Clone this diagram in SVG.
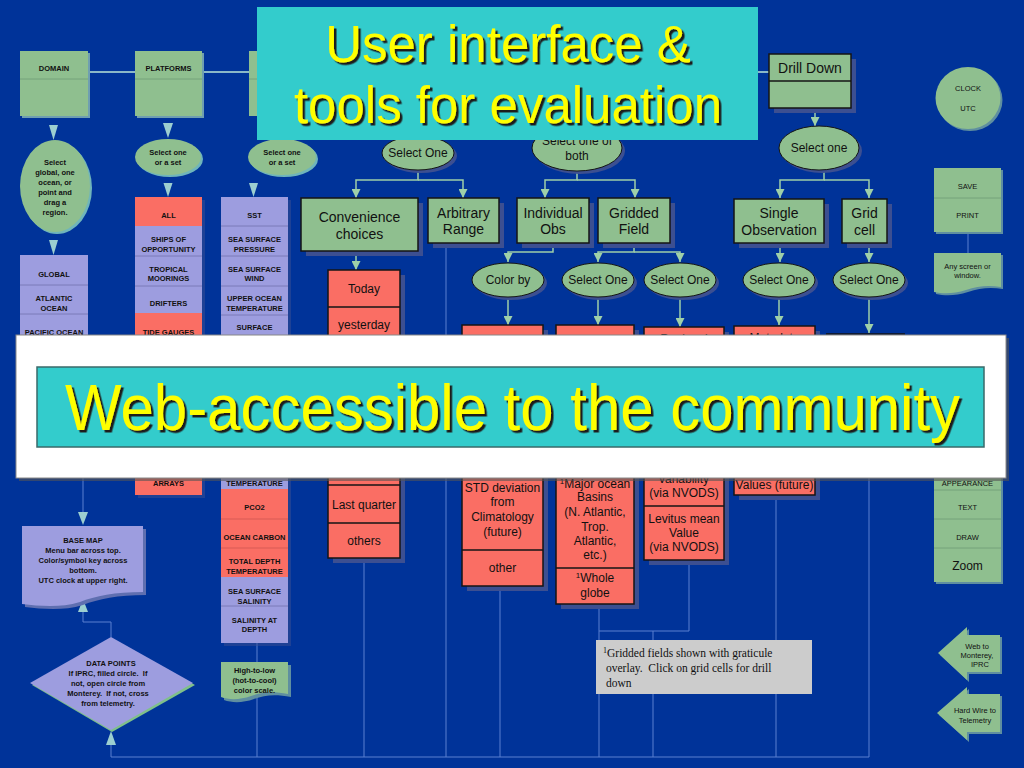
<svg xmlns="http://www.w3.org/2000/svg" width="1024" height="768" viewBox="0 0 1024 768">
<defs>
<style>
.gr{fill:#8fbf8f}
.grb{fill:#8fbf8f;stroke:#151515;stroke-width:1.5}
.lv{fill:#9d9ddf}
.rd{fill:#fa6e64}
.rdb{fill:#fa6e64;stroke:#151515;stroke-width:1.5}
.sh{fill:#3c4f91}
.shl{fill:#6f9fb0}
.dv{stroke:#7a7ab8;stroke-width:1}
.dvr{stroke:#d85a55;stroke-width:1}
.dvg{stroke:#74a27a;stroke-width:1}
.dvk{stroke:#151515;stroke-width:1.5}
.tri{fill:#9ccfd0}
.ln{stroke:#5a80d0;stroke-width:1;fill:none}
.lnl{stroke:#8ab8c8;stroke-width:2;fill:none}
.ar{stroke:#9fd0a8;stroke-width:1.5;fill:none;marker-end:url(#ah)}
.b{font-family:"Liberation Sans",Arial,sans-serif;font-size:7.5px;font-weight:bold;fill:#111;text-anchor:middle}
.n{font-family:"Liberation Sans",Arial,sans-serif;font-size:7.5px;fill:#111;text-anchor:middle}
.m{font-family:"Liberation Sans",Arial,sans-serif;font-size:12px;fill:#111;text-anchor:middle}
.l{font-family:"Liberation Sans",Arial,sans-serif;font-size:14px;fill:#111;text-anchor:middle}
.tt{font-family:"Liberation Sans",Tahoma,sans-serif;font-size:51px;text-anchor:middle;fill:#ffff00;filter:url(#ds)}
</style>
<filter id="ds" x="-5%" y="-20%" width="110%" height="140%"><feDropShadow dx="2.5" dy="2.5" stdDeviation="0.6" flood-color="#1a1a1a" flood-opacity="1"/></filter>
<marker id="ah" viewBox="0 0 10 10" refX="10" refY="5" markerWidth="9" markerHeight="9" markerUnits="userSpaceOnUse" orient="auto"><path d="M0,0 L10,5 L0,10 Z" fill="#9fd0a8"/></marker>
</defs>
<rect width="1024" height="768" fill="#003399"/>

<g id="connectors">
<path class="lnl" d="M88,72 H135 M202,72 H249 M758,72 H769"/>
<path class="ln" d="M83,400 V512 M83,612 V622 H111 V637 M111,745 V757 H869 M257,643 V662 M257,697 V757 M446,243 V757 M364,558 V757 M500,586 V757 M599,604 V757 M689,560 V631 H599 M653,631 V757 M776,495 V757 M869,478 V757 M968,232 V253"/>
<path class="ar" d="M815,108 V126"/>
<path class="ar" d="M824,170 V180 H780 V198"/>
<path class="ar" d="M824,180 H869 V198"/>
<path class="ar" d="M780,243 V262"/>
<path class="ar" d="M869,243 V262"/>
<path class="ar" d="M779,297 V325"/>
<path class="ar" d="M869,297 V333"/>
<path class="ar" d="M418,170 V180 H356 V198"/>
<path class="ar" d="M418,180 H463 V198"/>
<path class="ar" d="M356,252 V270"/>
<path class="ar" d="M577,171 V180 H545 V198"/>
<path class="ar" d="M577,180 H635 V198"/>
<path class="ar" d="M553,243 V252 H508 V262"/>
<path class="ar" d="M634,243 V252 H598 V262"/>
<path class="ar" d="M634,252 H680 V262"/>
<path class="ar" d="M508,297 V325"/>
<path class="ar" d="M598,297 V325"/>
<path class="ar" d="M680,297 V327"/>
<polygon class="tri" points="49,125 58,125 53.5,140"/>
<polygon class="tri" points="163,123 173,123 168,138"/>
<polygon class="tri" points="163.5,183 172.5,183 168,197"/>
<polygon class="tri" points="249,183 258,183 253.5,197"/>
<polygon class="tri" points="49,240 58,240 53.5,255"/>
<polygon class="tri" points="78,512 88,512 83,525"/>
<polygon class="tri" points="78,612 88,612 83,599"/>
<polygon class="tri" points="106,745 116,745 111,731"/>
</g>

<g id="domain">
<rect class="shl" x="22" y="53" width="68" height="65"/>
<rect class="gr" x="20" y="51" width="68" height="65"/>
<line class="dvg" x1="20" y1="79" x2="88" y2="79"/>
<text class="b" x="54" y="71">DOMAIN</text>
</g>
<g id="platforms">
<rect class="shl" x="137" y="53" width="67" height="65"/>
<rect class="gr" x="135" y="51" width="67" height="65"/>
<line class="dvg" x1="135" y1="79" x2="202" y2="79"/>
<text class="b" x="168.5" y="71">PLATFORMS</text>
</g>
<g id="parameters">
<rect class="gr" x="249" y="51" width="67" height="65"/>
<line class="dvg" x1="249" y1="79" x2="316" y2="79"/>
</g>

<g id="domain-select">
<ellipse cx="57" cy="188" rx="35" ry="46" fill="#6fb5bb"/>
<ellipse class="gr" cx="55" cy="186" rx="35" ry="46"/>
<text class="b" x="55" y="164.5">Select</text>
<text class="b" x="55" y="174.5">global, one</text>
<text class="b" x="55" y="184.5">ocean, or</text>
<text class="b" x="55" y="194.5">point and</text>
<text class="b" x="55" y="204.5">drag a</text>
<text class="b" x="55" y="214.5">region.</text>
</g>
<g id="platforms-select">
<ellipse cx="170" cy="159" rx="33" ry="18" fill="#6fb5bb"/>
<ellipse class="gr" cx="168" cy="157" rx="33" ry="18"/>
<text class="b" x="168" y="154.5">Select one</text>
<text class="b" x="168" y="164.5">or a set</text>
</g>
<g id="parameters-select">
<ellipse cx="284" cy="159" rx="34" ry="18" fill="#6fb5bb"/>
<ellipse class="gr" cx="282" cy="157" rx="34" ry="18"/>
<text class="b" x="282" y="154.5">Select one</text>
<text class="b" x="282" y="164.5">or a set</text>
</g>

<g id="domain-list">
<rect class="lv" x="20" y="255" width="68" height="145"/>
<path class="dv" d="M20,285 H88 M20,314 H88"/>
<text class="b" x="54" y="277">GLOBAL</text>
<text class="b" x="54" y="300.5">ATLANTIC</text>
<text class="b" x="54" y="310.5">OCEAN</text>
<text class="b" x="54" y="335">PACIFIC OCEAN</text>
</g>

<g id="platforms-list">
<rect class="sh" x="138" y="200" width="67" height="298" opacity="0.5"/>
<rect class="rd" x="135" y="197" width="67" height="29"/>
<rect class="lv" x="135" y="226" width="67" height="87"/>
<rect class="rd" x="135" y="313" width="67" height="182"/>
<path class="dv" d="M135,256 H202 M135,286 H202"/>
<text class="b" x="168.5" y="217.5">ALL</text>
<text class="b" x="168.5" y="241.5">SHIPS OF</text>
<text class="b" x="168.5" y="251.5">OPPORTUNITY</text>
<text class="b" x="168.5" y="271.5">TROPICAL</text>
<text class="b" x="168.5" y="281">MOORINGS</text>
<text class="b" x="168.5" y="305.5">DRIFTERS</text>
<text class="b" x="168.5" y="335">TIDE GAUGES</text>
<text class="b" x="168.5" y="486">ARRAYS</text>
</g>

<g id="parameters-list">
<rect class="sh" x="224" y="200" width="67" height="446" opacity="0.5"/>
<rect class="lv" x="221" y="197" width="67" height="292"/>
<rect class="rd" x="221" y="489" width="67" height="88"/>
<rect class="lv" x="221" y="577" width="67" height="66"/>
<path class="dv" d="M221,226 H288 M221,256 H288 M221,286 H288 M221,315 H288 M221,606 H288"/>
<path class="dvr" d="M221,519 H288 M221,548 H288"/>
<text class="b" x="254.5" y="217.5">SST</text>
<text class="b" x="254.5" y="241.5">SEA SURFACE</text>
<text class="b" x="254.5" y="251.5">PRESSURE</text>
<text class="b" x="254.5" y="271.5">SEA SURFACE</text>
<text class="b" x="254.5" y="281">WIND</text>
<text class="b" x="254.5" y="300.5">UPPER OCEAN</text>
<text class="b" x="254.5" y="310.5">TEMPERATURE</text>
<text class="b" x="254.5" y="329.5">SURFACE</text>
<text class="b" x="254.5" y="486">TEMPERATURE</text>
<text class="b" x="254.5" y="509.5">PCO2</text>
<text class="b" x="254.5" y="539.5">OCEAN CARBON</text>
<text class="b" x="254.5" y="563.5">TOTAL DEPTH</text>
<text class="b" x="254.5" y="573.5">TEMPERATURE</text>
<text class="b" x="254.5" y="593.5">SEA SURFACE</text>
<text class="b" x="254.5" y="603.5">SALINITY</text>
<text class="b" x="254.5" y="622.5">SALINITY AT</text>
<text class="b" x="254.5" y="632">DEPTH</text>
</g>

<g id="color-scale">
<path d="M224,665 H291 V697 C275,694 265,695 254,699 C243,703 232,703 224,700 Z" fill="#5f8fa0"/>
<path class="gr" d="M221,662 H288 V694 C272,691 262,692 251,696 C240,700 229,700 221,697 Z"/>
<text class="b" x="254.5" y="672.5">High-to-low</text>
<text class="b" x="254.5" y="682.5">(hot-to-cool)</text>
<text class="b" x="254.5" y="692.5">color scale.</text>
</g>

<g id="base-map">
<path d="M25,529 H146 V595 C118,595 98,599 83,605 C63,611 43,609 25,607 Z" fill="#5f6fb0"/>
<path class="lv" d="M22,526 H143 V592 C115,592 95,596 80,602 C60,608 40,606 22,604 Z"/>
<text class="b" x="83" y="542.7">BASE MAP</text>
<text class="b" x="83" y="552.7">Menu bar across top.</text>
<text class="b" x="83" y="562.7">Color/symbol key across</text>
<text class="b" x="83" y="572.7">bottom.</text>
<text class="b" x="83" y="582.7">UTC clock at upper right.</text>
</g>

<g id="data-points">
<polygon points="112,639 195,685 112,732 32,685" fill="#7fc08a"/>
<polygon class="lv" points="111,637 193,683 111,730 30,683"/>
<text class="b" x="111" y="665.7">DATA POINTS</text>
<text class="b" x="108" y="675.7" xml:space="preserve">If IPRC, filled circle.  If</text>
<text class="b" x="108" y="685.7">not, open circle from</text>
<text class="b" x="108" y="695.7" xml:space="preserve">Monterey.  If not, cross</text>
<text class="b" x="108" y="705.7">from telemetry.</text>
</g>

<g id="time-select">
<ellipse class="sh" cx="421" cy="156" rx="36" ry="17"/>
<ellipse class="gr" cx="418" cy="153" rx="36" ry="17" stroke="#151515" stroke-width="1"/>
<text class="m" x="418" y="157">Select One</text>
</g>
<g id="convenience">
<rect class="sh" x="306" y="203" width="117" height="53"/>
<rect class="grb" x="301" y="198" width="117" height="53"/>
<text class="l" x="359.5" y="222">Convenience</text>
<text class="l" x="359.5" y="239">choices</text>
</g>
<g id="arbitrary">
<rect class="sh" x="433" y="203" width="71" height="45"/>
<rect class="grb" x="428" y="198" width="71" height="45"/>
<text class="l" x="463.5" y="218">Arbitrary</text>
<text class="l" x="463.5" y="234">Range</text>
</g>
<g id="convenience-list">
<rect class="sh" x="333" y="275" width="72" height="288"/>
<rect class="rdb" x="328" y="270" width="72" height="288"/>
<path class="dvk" d="M328,307 H400 M328,343 H400 M328,485 H400 M328,523 H400"/>
<text class="m" x="364" y="293">Today</text>
<text class="m" x="364" y="329">yesterday</text>
<text class="m" x="364" y="509">Last quarter</text>
<text class="m" x="364" y="545">others</text>
</g>

<g id="obs-select">
<ellipse class="sh" cx="580" cy="151" rx="45" ry="23"/>
<ellipse class="gr" cx="577" cy="148" rx="45" ry="23" stroke="#151515" stroke-width="1"/>
<text class="m" x="577" y="145">Select one of</text>
<text class="m" x="577" y="160">both</text>
</g>
<g id="individual">
<rect class="sh" x="522" y="203" width="72" height="45"/>
<rect class="grb" x="517" y="198" width="72" height="45"/>
<text class="l" x="553" y="218">Individual</text>
<text class="l" x="553" y="234">Obs</text>
</g>
<g id="gridded">
<rect class="sh" x="603" y="203" width="72" height="45"/>
<rect class="grb" x="598" y="198" width="72" height="45"/>
<text class="l" x="634" y="218">Gridded</text>
<text class="l" x="634" y="234">Field</text>
</g>
<g id="color-by">
<ellipse class="sh" cx="511" cy="283" rx="36" ry="17"/>
<ellipse class="gr" cx="508" cy="280" rx="36" ry="17" stroke="#151515" stroke-width="1"/>
<text class="m" x="508" y="284">Color by</text>
</g>
<g id="grid-select-1">
<ellipse class="sh" cx="601" cy="283" rx="36" ry="17"/>
<ellipse class="gr" cx="598" cy="280" rx="36" ry="17" stroke="#151515" stroke-width="1"/>
<text class="m" x="598" y="284">Select One</text>
</g>
<g id="grid-select-2">
<ellipse class="sh" cx="683" cy="283" rx="36" ry="17"/>
<ellipse class="gr" cx="680" cy="280" rx="36" ry="17" stroke="#151515" stroke-width="1"/>
<text class="m" x="680" y="284">Select One</text>
</g>
<g id="color-list">
<rect class="sh" x="467" y="330" width="81" height="261"/>
<rect class="rdb" x="462" y="325" width="81" height="261"/>
<path class="dvk" d="M462,470 H543 M462,550 H543"/>
<text class="m" x="502.5" y="492">STD deviation</text>
<text class="m" x="502.5" y="506">from</text>
<text class="m" x="502.5" y="521">Climatology</text>
<text class="m" x="502.5" y="536">(future)</text>
<text class="m" x="502.5" y="572">other</text>
</g>
<g id="region-list">
<rect class="sh" x="561" y="330" width="78" height="279"/>
<rect class="rdb" x="556" y="325" width="78" height="279"/>
<path class="dvk" d="M556,568 H634"/>
<text class="m" x="595" y="488"><tspan font-size="8" dy="-4">1</tspan><tspan dy="4">Major ocean</tspan></text>
<text class="m" x="595" y="501">Basins</text>
<text class="m" x="595" y="516">(N. Atlantic,</text>
<text class="m" x="595" y="531">Trop.</text>
<text class="m" x="595" y="545">Atlantic,</text>
<text class="m" x="595" y="559">etc.)</text>
<text class="m" x="595" y="582"><tspan font-size="8" dy="-4">1</tspan><tspan dy="4">Whole</tspan></text>
<text class="m" x="595" y="597">globe</text>
</g>
<g id="variability-list">
<rect class="sh" x="649" y="332" width="80" height="233"/>
<rect class="rdb" x="644" y="327" width="80" height="233"/>
<path class="dvk" d="M644,506 H724"/>
<text class="m" x="684" y="343">Regional</text>
<text class="m" x="684" y="483">variability</text>
<text class="m" x="684" y="497">(via NVODS)</text>
<text class="m" x="684" y="523">Levitus mean</text>
<text class="m" x="684" y="537">Value</text>
<text class="m" x="684" y="551">(via NVODS)</text>
</g>

<g id="drill-down">
<rect class="sh" x="774" y="59" width="82" height="54"/>
<rect class="grb" x="769" y="54" width="82" height="54"/>
<path class="dvk" d="M769,81 H851"/>
<text class="l" x="810" y="73">Drill Down</text>
</g>
<g id="drill-select">
<ellipse class="sh" cx="822" cy="151" rx="40" ry="22"/>
<ellipse class="gr" cx="819" cy="148" rx="40" ry="22" stroke="#151515" stroke-width="1"/>
<text class="m" x="819" y="152">Select one</text>
</g>
<g id="single-obs">
<rect class="sh" x="739" y="204" width="90" height="44"/>
<rect class="grb" x="734" y="199" width="90" height="44"/>
<text class="l" x="779" y="218">Single</text>
<text class="l" x="779" y="235">Observation</text>
</g>
<g id="grid-cell">
<rect class="sh" x="847" y="204" width="45" height="44"/>
<rect class="grb" x="842" y="199" width="45" height="44"/>
<text class="l" x="864.5" y="218">Grid</text>
<text class="l" x="864.5" y="235">cell</text>
</g>
<g id="single-select">
<ellipse class="sh" cx="782" cy="283" rx="36" ry="17"/>
<ellipse class="gr" cx="779" cy="280" rx="36" ry="17" stroke="#151515" stroke-width="1"/>
<text class="m" x="779" y="284">Select One</text>
</g>
<g id="cell-select">
<ellipse class="sh" cx="872" cy="283" rx="36" ry="17"/>
<ellipse class="gr" cx="869" cy="280" rx="36" ry="17" stroke="#151515" stroke-width="1"/>
<text class="m" x="869" y="284">Select One</text>
</g>
<g id="metadata-list">
<rect class="sh" x="739" y="331" width="81" height="169"/>
<rect class="rdb" x="734" y="326" width="81" height="169"/>
<text class="m" x="774.5" y="342">Metadata</text>
<text class="m" x="774.5" y="489">Values (future)</text>
</g>
<g id="cell-list">
<line class="dvk" x1="826" y1="334" x2="905" y2="334"/>
</g>

<g id="clock">
<ellipse cx="970" cy="100" rx="32.5" ry="31" fill="#5f8fa0"/>
<ellipse class="gr" cx="968" cy="98" rx="32.5" ry="31"/>
<text class="n" x="968" y="90.5">CLOCK</text>
<text class="n" x="968" y="110.5">UTC</text>
</g>
<g id="save-print">
<rect x="936" y="170" width="67" height="64" fill="#5f8fa0"/>
<rect class="gr" x="934" y="168" width="67" height="64"/>
<line class="dvg" x1="934" y1="198" x2="1001" y2="198"/>
<text class="n" x="967.5" y="188.5">SAVE</text>
<text class="n" x="967.5" y="217.5">PRINT</text>
</g>
<g id="screen-note">
<path d="M936,255 H1003 V289 C990,287 980,288 968,292 C956,296 945,296 936,294 Z" fill="#5f8fa0"/>
<path class="gr" d="M934,253 H1001 V287 C988,285 978,286 966,290 C954,294 943,294 934,292 Z"/>
<text class="n" x="967.5" y="268.5">Any screen or</text>
<text class="n" x="967.5" y="278">window.</text>
</g>
<g id="tools-list">
<rect x="936" y="442" width="67" height="142" fill="#5f8fa0"/>
<rect class="gr" x="934" y="440" width="67" height="142"/>
<path class="dvg" d="M934,490 H1001 M934,519 H1001 M934,548 H1001"/>
<text class="n" x="967.5" y="485.5">APPEARANCE</text>
<text class="n" x="967.5" y="509.5">TEXT</text>
<text class="n" x="967.5" y="539.5">DRAW</text>
<text class="m" x="967.5" y="570">Zoom</text>
</g>
<g id="web-arrow">
<polygon points="940,655 969,629 969,637 1002,637 1002,674 969,674 969,682" fill="#5f8fa0"/>
<polygon class="gr" points="938,653 967,627 967,635 1000,635 1000,672 967,672 967,680"/>
<text class="n" x="977" y="648.5">Web to</text>
<text class="n" x="977" y="657.5">Monterey,</text>
<text class="n" x="980" y="666.5">IPRC</text>
</g>
<g id="wire-arrow">
<polygon points="939,715 969,689 969,696 1002,696 1002,734 969,734 969,742" fill="#5f8fa0"/>
<polygon class="gr" points="937,713 967,687 967,694 1000,694 1000,732 967,732 967,740"/>
<text class="n" x="975" y="712.5">Hard Wire to</text>
<text class="n" x="975" y="722.5">Telemetry</text>
</g>

<g id="footnote">
<rect x="596" y="640" width="216" height="54" fill="#cccccc"/>
<text font-family="'Liberation Serif','Times New Roman',serif" font-size="11.5" fill="#111"><tspan x="603" y="657"><tspan font-size="8" dy="-4">1</tspan><tspan dy="4">Gridded fields shown with graticule</tspan></tspan><tspan x="606" y="672" xml:space="preserve">overlay.  Click on grid cells for drill</tspan><tspan x="606" y="687">down</tspan></text>
</g>

<g id="title">
<rect x="257" y="7" width="501" height="133" fill="#33cccc"/>
<text class="tt" x="508" y="62">User interface &amp;</text>
<text class="tt" x="508" y="123">tools for evaluation</text>
</g>

<g id="banner">
<rect x="19" y="338" width="990" height="143" fill="#555" opacity="0.6"/>
<rect x="16" y="335" width="990" height="143" fill="#ffffff" stroke="#888" stroke-width="1"/>
<rect x="37" y="367" width="947" height="80" fill="#33cccc" stroke="#3a6a6a" stroke-width="1.5"/>
<text x="512.5" y="430" font-family="'Liberation Sans',sans-serif" font-size="64" fill="#ffff00" text-anchor="middle" textLength="895" lengthAdjust="spacingAndGlyphs" filter="url(#ds)">Web-accessible to the community</text>
</g>
</svg>
